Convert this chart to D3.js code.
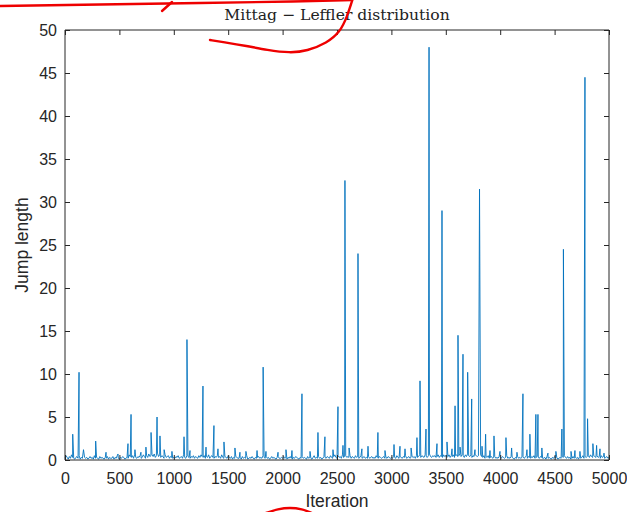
<!DOCTYPE html>
<html>
<head>
<meta charset="utf-8">
<script src="https://cdn.jsdelivr.net/npm/d3@7"></script>
<style>
  html, body { margin: 0; padding: 0; background: #ffffff; }
  svg { display: block; }
</style>
</head>
<body>
<svg id="chart" width="627" height="512"></svg>
<script>
// ---------------- data ----------------
const titleText = "Mittag \u2212 Leffler distribution";
const xLabel = "Iteration";
const yLabel = "Jump length";
const xTicks = [0, 500, 1000, 1500, 2000, 2500, 3000, 3500, 4000, 4500, 5000];
const yTicks = [0, 5, 10, 15, 20, 25, 30, 35, 40, 45, 50];

// visible jumps (iteration, jump length)
const spikeIter = [71, 129, 170, 282, 377, 487, 579, 607, 643, 698, 744, 791, 846, 873, 911, 983,
  1094, 1121, 1149, 1268, 1296, 1369, 1406, 1461, 1562, 1608, 1663, 1765, 1821, 1847, 1958,
  2031, 2086, 2178, 2252, 2325, 2389, 2463, 2509, 2555, 2573, 2611, 2693, 2729, 2785, 2876, 2941,
  3024, 3079, 3125, 3181, 3235, 3263, 3318, 3346, 3419, 3465, 3511, 3557, 3585, 3612, 3631, 3658,
  3701, 3738, 3768, 3810, 3833, 3866, 3906, 3943, 3998, 4053, 4105, 4154, 4209, 4246, 4273,
  4328, 4347, 4383, 4439, 4512, 4567, 4581, 4651, 4687, 4733, 4779, 4803, 4852, 4886, 4917, 4954];
const spikeJump = [3.0, 10.2, 1.2, 2.2, 0.9, 0.7, 1.9, 5.3, 1.2, 0.9, 1.5, 3.2, 5.0, 2.8, 1.2, 1.0,
  2.7, 14.0, 1.1, 8.6, 1.5, 4.0, 1.3, 2.1, 1.4, 0.9, 1.0, 1.1, 10.8, 1.0, 0.9,
  1.2, 1.1, 7.7, 1.0, 3.2, 2.7, 1.2, 6.2, 1.7, 32.5, 1.4, 24.0, 1.3, 1.6, 3.2, 1.1,
  1.8, 1.6, 1.3, 1.4, 2.6, 9.2, 3.6, 48.0, 1.9, 29.0, 2.1, 1.3, 6.3, 14.5, 1.5, 12.3,
  10.2, 7.1, 1.2, 31.5, 1.6, 3.0, 1.1, 2.8, 1.0, 2.6, 1.4, 0.9, 7.7, 1.2, 3.0,
  5.3, 5.3, 1.4, 0.8, 1.0, 3.6, 24.5, 1.0, 1.1, 1.0, 44.5, 4.8, 1.9, 1.7, 1.3, 0.8];

// low background jumps, sampled every 10 iterations (0 .. 5000)
const baseStep = 10;
const baseJump = [
  0.2,0.5,0.3,0.1,0.4,0.2,0.6,0.3,0.2,0.1,0.3,0.4,0.2,0.5,0.1,0.3,0.2,0.4,0.3,0.2,
  0.3,0.1,0.2,0.4,0.2,0.3,0.1,0.5,0.2,0.3,0.2,0.1,0.4,0.2,0.3,0.2,0.1,0.3,0.2,0.4,
  0.1,0.3,0.2,0.2,0.4,0.1,0.3,0.2,0.5,0.2,0.1,0.3,0.2,0.4,0.3,0.1,0.2,0.3,0.2,0.6,
  0.4,0.3,0.5,0.2,0.6,0.3,0.2,0.4,0.3,0.5,0.2,0.3,0.6,0.4,0.2,0.5,0.3,0.7,0.4,0.5,
  0.6,0.4,0.7,0.3,0.5,0.8,0.4,0.6,0.3,0.5,0.4,0.2,0.6,0.3,0.4,0.5,0.2,0.4,0.3,0.2,
  0.3,0.2,0.4,0.3,0.5,0.2,0.3,0.4,0.2,0.6,0.3,0.2,0.5,0.4,0.3,0.2,0.4,0.3,0.5,0.2,
  0.4,0.3,0.2,0.5,0.3,0.6,0.4,0.3,0.5,0.2,0.4,0.3,0.6,0.2,0.4,0.5,0.3,0.2,0.4,0.3,
  0.5,0.3,0.4,0.2,0.6,0.3,0.2,0.4,0.3,0.2,0.5,0.3,0.2,0.4,0.1,0.3,0.2,0.4,0.3,0.2,
  0.2,0.3,0.1,0.4,0.2,0.3,0.2,0.5,0.1,0.2,0.3,0.2,0.4,0.2,0.1,0.3,0.2,0.3,0.4,0.2,
  0.3,0.2,0.5,0.3,0.2,0.4,0.2,0.3,0.1,0.2,0.4,0.2,0.3,0.2,0.1,0.3,0.4,0.2,0.2,0.3,
  0.2,0.4,0.2,0.3,0.1,0.3,0.2,0.4,0.2,0.1,0.3,0.2,0.4,0.3,0.2,0.1,0.3,0.2,0.4,0.2,
  0.3,0.2,0.1,0.4,0.2,0.3,0.2,0.1,0.3,0.5,0.2,0.3,0.2,0.4,0.2,0.3,0.1,0.2,0.4,0.3,
  0.2,0.4,0.3,0.2,0.5,0.3,0.2,0.4,0.6,0.3,0.2,0.5,0.3,0.4,0.2,0.6,0.3,0.4,0.5,0.3,
  0.4,0.3,0.5,0.2,0.4,0.3,0.2,0.5,0.3,0.4,0.2,0.3,0.5,0.2,0.3,0.4,0.2,0.3,0.2,0.4,
  0.2,0.3,0.4,0.2,0.3,0.2,0.5,0.3,0.2,0.4,0.3,0.2,0.3,0.4,0.2,0.3,0.2,0.4,0.3,0.2,
  0.3,0.2,0.4,0.3,0.2,0.5,0.3,0.2,0.4,0.3,0.2,0.4,0.3,0.5,0.2,0.3,0.4,0.2,0.3,0.4,
  0.3,0.4,0.2,0.5,0.3,0.4,0.6,0.3,0.5,0.4,0.3,0.6,0.4,0.3,0.5,0.7,0.4,0.3,0.5,0.4,
  0.5,0.3,0.4,0.6,0.3,0.5,0.4,0.3,0.6,0.4,0.5,0.3,0.4,0.6,0.3,0.5,0.4,0.6,0.3,0.5,
  0.6,0.4,0.5,0.7,0.4,0.6,0.5,0.3,0.6,0.4,0.7,0.5,0.4,0.6,0.3,0.5,0.4,0.6,0.5,0.4,
  0.5,0.3,0.6,0.4,0.3,0.5,0.2,0.4,0.3,0.5,0.2,0.3,0.4,0.2,0.3,0.4,0.2,0.3,0.2,0.4,
  0.3,0.2,0.4,0.3,0.2,0.3,0.5,0.2,0.3,0.2,0.4,0.3,0.2,0.1,0.3,0.2,0.4,0.2,0.3,0.2,
  0.3,0.4,0.2,0.3,0.5,0.2,0.4,0.3,0.2,0.4,0.3,0.5,0.2,0.3,0.4,0.3,0.2,0.4,0.3,0.2,
  0.2,0.3,0.1,0.4,0.2,0.3,0.2,0.1,0.3,0.2,0.4,0.2,0.3,0.1,0.2,0.3,0.2,0.4,0.3,0.5,
  0.3,0.2,0.4,0.2,0.3,0.1,0.2,0.4,0.2,0.3,0.2,0.3,0.1,0.4,0.2,0.3,0.5,0.2,0.4,0.3,
  0.4,0.5,0.3,0.6,0.4,0.3,0.5,0.4,0.3,0.5,0.3,0.4,0.2,0.5,0.3,0.4,0.2,0.3,0.4,0.2,
  0.3
];

// hand-drawn red pen marks present on the reference image (page pixels)
const penStrokes = [
  [[0, 6], [100, 4.5], [200, 3], [300, 1.5], [352, 0]],
  [[162, 11], [172, 2]],
  [[353, -2], [347, 17], [340, 32], [327, 43], [307, 51], [290, 53], [267, 50], [247, 46], [223, 42], [210, 40]],
  [[266, 513], [278, 509], [290, 507.5], [302, 509], [312, 513]]
];

// ---------------- drawing ----------------
const svg = d3.select("#chart");
const W = 627, H = 512;
const m = { left: 65, right: 18, top: 30, bottom: 52 };
const x = d3.scaleLinear().domain([0, 5000]).range([m.left, W - m.right]);
const y = d3.scaleLinear().domain([0, 50]).range([H - m.bottom, m.top]);

const axisColor = "#262626";
const tickFont = "'Liberation Sans', Arial, Helvetica, sans-serif";

// build the series: background samples plus the visible jumps, ordered by iteration
const spikeSet = new Set(spikeIter);
const series = baseJump.map((v, i) => ({ it: i * baseStep, v }))
  .filter(d => !spikeSet.has(d.it))
  .concat(spikeIter.map((it, i) => ({ it, v: spikeJump[i] })))
  .sort((a, b) => a.it - b.it);

// plot line
svg.append("path")
  .datum(series)
  .attr("fill", "none")
  .attr("stroke", "#0072BD")
  .attr("stroke-width", 0.9)
  .attr("stroke-linejoin", "miter")
  .attr("d", d3.line().x(d => x(d.it)).y(d => y(d.v)));

// axes (ticks point inward, MATLAB style)
const tick = 5;
const gx = svg.append("g").attr("transform", `translate(0,${y(0)})`)
  .call(d3.axisBottom(x).tickValues(xTicks).tickSize(-tick).tickPadding(13).tickFormat(d3.format("d")));
const gxt = svg.append("g").attr("transform", `translate(0,${y(50)})`)
  .call(d3.axisTop(x).tickValues(xTicks).tickSize(-tick).tickFormat(""));
const gy = svg.append("g").attr("transform", `translate(${x(0)},0)`)
  .call(d3.axisLeft(y).tickValues(yTicks).tickSize(-tick).tickPadding(8).tickFormat(d3.format("d")));
const gyr = svg.append("g").attr("transform", `translate(${x(5000)},0)`)
  .call(d3.axisRight(y).tickValues(yTicks).tickSize(-tick).tickFormat(""));

[gx, gxt, gy, gyr].forEach(g => {
  g.selectAll("path.domain").attr("stroke", axisColor).attr("stroke-width", 1);
  g.selectAll(".tick line").attr("stroke", axisColor).attr("stroke-width", 1);
  g.selectAll(".tick text").attr("fill", axisColor)
    .style("font-family", tickFont).style("font-size", "16px");
});
[gx, gxt].forEach(g => g.select("path.domain").attr("d", `M${x(0)},0H${x(5000)}`));
[gy, gyr].forEach(g => g.select("path.domain").attr("d", `M0,${y(0)}V${y(50)}`));

// labels
svg.append("text")
  .attr("x", (x(0) + x(5000)) / 2).attr("y", 507)
  .attr("text-anchor", "middle")
  .attr("fill", axisColor)
  .style("font-family", tickFont).style("font-size", "17.5px")
  .text(xLabel);

svg.append("text")
  .attr("transform", `translate(28,${(y(0) + y(50)) / 2}) rotate(-90)`)
  .attr("text-anchor", "middle")
  .attr("fill", axisColor)
  .style("font-family", tickFont).style("font-size", "17.5px")
  .text(yLabel);

svg.append("text")
  .attr("x", 337).attr("y", 20)
  .attr("text-anchor", "middle")
  .attr("fill", "#222")
  .style("font-family", "'DejaVu Serif', 'Liberation Serif', serif")
  .style("font-size", "15.6px")
  .text(titleText);

// red pen marks
const pen = d3.line().curve(d3.curveBasis);
penStrokes.forEach(s => {
  svg.append("path").attr("d", pen(s))
    .attr("fill", "none").attr("stroke", "#ee0000")
    .attr("stroke-width", 2.4).attr("stroke-linecap", "round");
});
</script>
</body>
</html>
